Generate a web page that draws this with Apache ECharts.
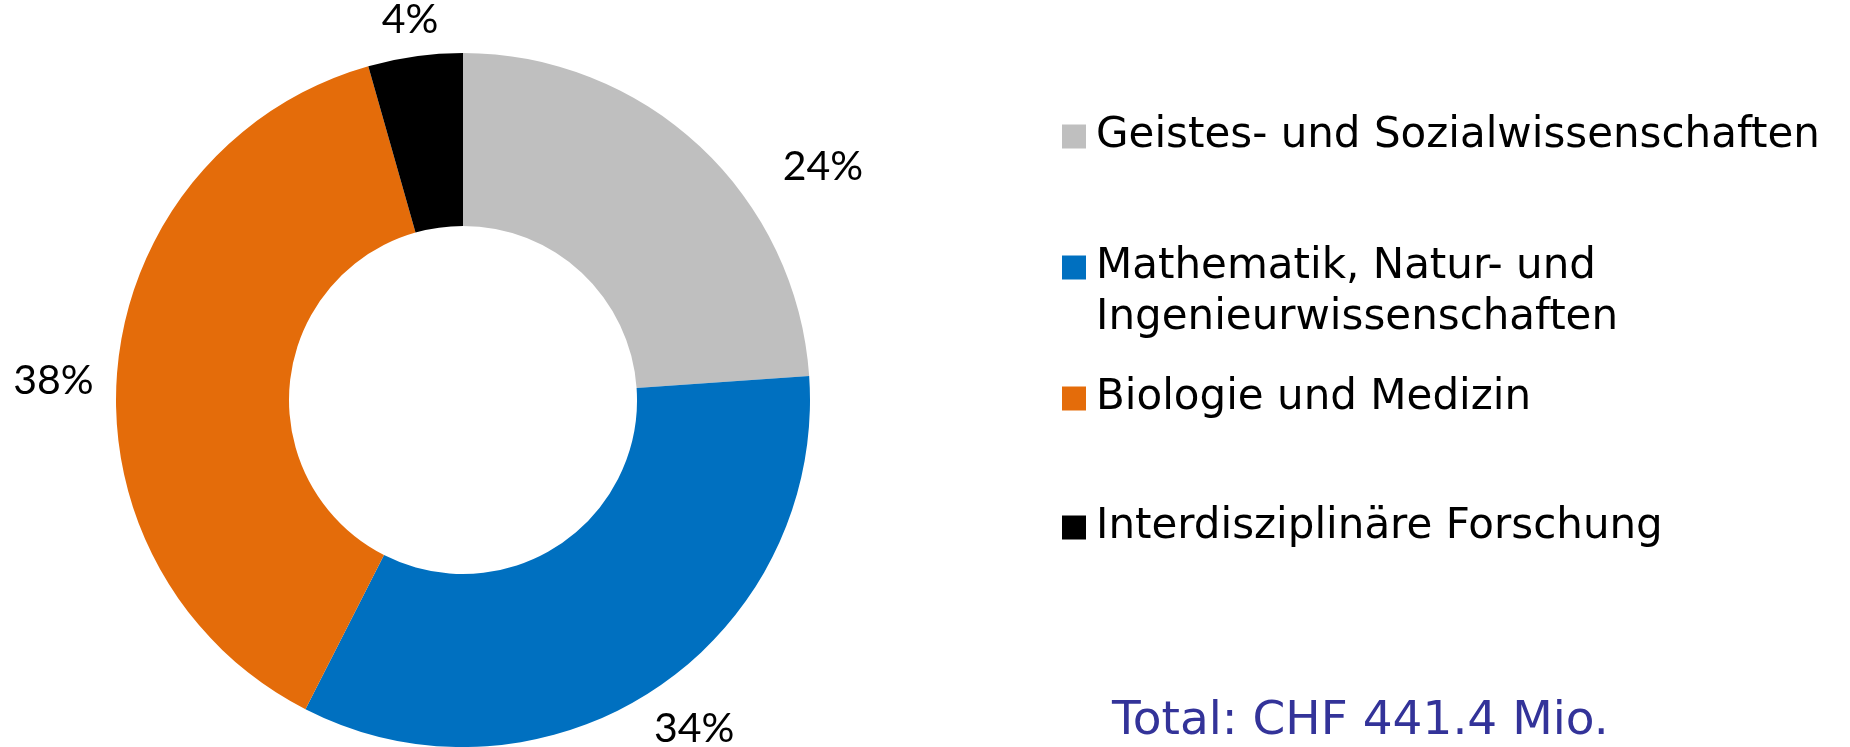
<!DOCTYPE html>
<html>
<head>
<meta charset="utf-8">
<script src="https://cdn.jsdelivr.net/npm/echarts@6/dist/echarts.min.js"></script>
<style>
html,body{margin:0;padding:0;background:#fff;}
#chart{width:1850px;height:747px;}
</style>
</head>
<body>
<div id="chart"></div>
<script>
const categories = [
  'Geistes- und Sozialwissenschaften',
  'Mathematik, Natur- und Ingenieurwissenschaften',
  'Biologie und Medizin',
  'Interdisziplinäre Forschung'
];
const legendLabels = [
  'Geistes- und Sozialwissenschaften',
  '\nMathematik, Natur- und\nIngenieurwissenschaften',
  'Biologie und Medizin',
  'Interdisziplinäre Forschung'
];
const shares = [23.9, 33.6, 38.1, 4.4];
const colors = ['#BFBFBF', '#0070C0', '#E46C0A', '#000000'];
const totalText = 'Total: CHF 441.4 Mio.';

// label styling (placement along each slice's ray)
const labelLines = [
  {length: 0, length2: 83},
  {length: 72, length2: 0},
  {length: 0, length2: 24},
  {length: 37, length2: 0}
];
const labelAligns = [
  {verticalAlign: 'top'},
  {align: 'center', verticalAlign: 'bottom'},
  {verticalAlign: 'top'},
  {align: 'center'}
];
const labelLineHeights = [null, null, 30, null];
const legendTops = [111, 191, 373, 502];

const chart = echarts.init(document.getElementById('chart'), null, {renderer: 'canvas'});
const option = {
  backgroundColor: '#ffffff',
  animation: false,
  title: {
    text: totalText,
    left: 1112,
    top: 697,
    padding: 0,
    textStyle: {fontFamily: 'DejaVu Sans', fontSize: 47, fontWeight: 'normal', color: '#333399', lineHeight: 50}
  },
  legend: categories.map((c, i) => ({
    data: [c],
    orient: 'vertical',
    left: 1062,
    top: legendTops[i],
    padding: 0,
    icon: 'rect',
    itemWidth: 24,
    itemHeight: 24,
    selectedMode: false,
    formatter: () => legendLabels[i],
    textStyle: {fontFamily: 'DejaVu Sans', fontSize: 42, color: '#000', lineHeight: 51, padding: [0, 0, 0, 5]}
  })),
  series: [{
    type: 'pie',
    center: [463, 400],
    radius: [174, 347],
    startAngle: 90,
    clockwise: true,
    avoidLabelOverlap: false,
    data: categories.map((c, i) => {
      const item = {
        name: c,
        value: shares[i],
        itemStyle: {color: colors[i]},
        labelLine: {show: false, length: labelLines[i].length, length2: labelLines[i].length2}
      };
      if (labelLineHeights[i]) item.label = {lineHeight: labelLineHeights[i]};
      return item;
    }),
    label: {
      show: true,
      position: 'outside',
      distanceToLabelLine: 0,
      formatter: p => Math.round(p.value) + '%',
      fontFamily: 'Lato',
      fontSize: 41,
      color: '#000'
    },
    labelLayout: params => labelAligns[params.dataIndex],
    labelLine: {show: false},
    emphasis: {disabled: true}
  }]
};
chart.setOption(option);
</script>
</body>
</html>
